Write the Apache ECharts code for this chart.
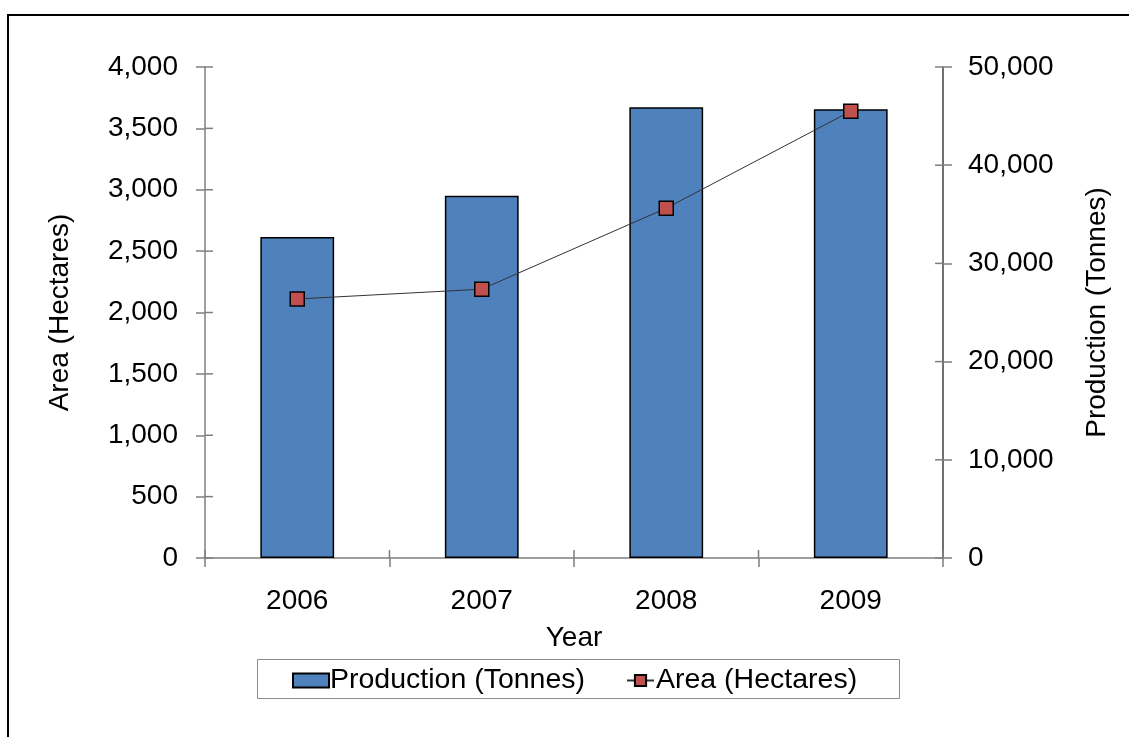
<!DOCTYPE html>
<html>
<head>
<meta charset="utf-8">
<script src="https://cdn.jsdelivr.net/npm/echarts@6/dist/echarts.min.js"></script>
<style>
  html, body { margin: 0; padding: 0; background: #fff; }
  #chart { width: 1129px; height: 737px; }
</style>
</head>
<body>
<div id="chart"></div>
<script>
// Crop production and harvested area by year
const years = ['2006', '2007', '2008', '2009'];
const production = [32700, 36900, 45900, 45700]; // tonnes (right axis)
const area = [2110, 2190, 2850, 3640];            // hectares (left axis)

// axis tick values
const areaTickValues = [0, 500, 1000, 1500, 2000, 2500, 3000, 3500, 4000];
const prodTickValues = [0, 10000, 20000, 30000, 40000, 50000];

const FONT = '"Liberation Sans", Arial, sans-serif';
const fmt = v => Number(v).toLocaleString('en-US');

const chart = echarts.init(document.getElementById('chart'), null, { renderer: 'canvas' });

const labelStyle = { color: '#000', fontFamily: FONT, fontSize: 28 };
const tickColor = '#7f7f7f';
const INNER = 8; // inner half of each crossing tick mark

const tickLine = (x1, y1, x2, y2) => ({
  type: 'line',
  shape: { x1, y1, x2, y2 },
  style: { stroke: tickColor, lineWidth: 1.5 }
});

// inner halves of the y-axis ticks, placed through the axis scale
const innerYTicks = (yAxisIndex, values, side) => ({
  type: 'custom',
  xAxisIndex: 0,
  yAxisIndex,
  silent: true,
  z: 1,
  data: values.map(v => [years[0], v]),
  encode: { x: 0, y: 1 },
  renderItem: (params, api) => {
    const y = api.coord([api.value(0), api.value(1)])[1];
    const cs = params.coordSys;
    const x = side === 'left' ? cs.x : cs.x + cs.width;
    const dir = side === 'left' ? 1 : -1;
    return tickLine(x, y, x + dir * INNER, y);
  }
});

// inner halves of the category-boundary ticks
const innerXTicks = {
  type: 'custom',
  xAxisIndex: 0,
  yAxisIndex: 0,
  silent: true,
  z: 1,
  data: years.map(yr => [yr, 0]),
  encode: { x: 0, y: 1 },
  renderItem: (params, api) => {
    const c = api.coord([api.value(0), 0]);
    const half = api.size([1, 0])[0] / 2;
    const children = [tickLine(c[0] - half, c[1], c[0] - half, c[1] - INNER)];
    if (params.dataIndex === years.length - 1) {
      children.push(tickLine(c[0] + half, c[1], c[0] + half, c[1] - INNER));
    }
    return { type: 'group', children };
  }
};

chart.setOption({
  backgroundColor: '#fff',
  animation: false,
  grid: { left: 205, right: 186, top: 67, bottom: 179, containLabel: false },
  graphic: [
    {
      type: 'rect', silent: true, z: -1,
      shape: { x: 8, y: 15, width: 1200, height: 800 },
      style: { fill: 'none', stroke: '#000', lineWidth: 2 }
    },
    {
      type: 'rect', silent: true, z: -1,
      shape: { x: 257.5, y: 659.5, width: 642, height: 39 },
      style: { fill: '#fff', stroke: '#8c8c8c', lineWidth: 1 }
    }
  ],
  legend: [
    {
      data: [{ name: 'Production (Tonnes)', icon: 'rect' }],
      left: 292, top: 666,
      padding: 0,
      itemWidth: 36, itemHeight: 14, itemGap: 0,
      textStyle: { color: '#000', fontFamily: FONT, fontSize: 28.5, padding: [0, 0, 0, -4] }
    },
    {
      data: ['Area (Hectares)'],
      left: 626, top: 666,
      padding: 0,
      itemWidth: 27, itemHeight: 14, itemGap: 0,
      textStyle: { color: '#000', fontFamily: FONT, fontSize: 28.5, padding: [0, 0, 0, -3] }
    }
  ],
  xAxis: {
    type: 'category',
    data: years,
    boundaryGap: true,
    name: 'Year',
    nameLocation: 'middle',
    nameGap: 66,
    nameTextStyle: labelStyle,
    axisLine: { lineStyle: { color: tickColor, width: 1.5 } },
    axisTick: { show: true, alignWithLabel: false, length: 9, lineStyle: { color: tickColor, width: 1.5 } },
    axisLabel: Object.assign({ margin: 29 }, labelStyle),
    splitLine: { show: false }
  },
  yAxis: [
    {
      type: 'value',
      position: 'left',
      min: areaTickValues[0],
      max: areaTickValues[areaTickValues.length - 1],
      interval: areaTickValues[1] - areaTickValues[0],
      name: 'Area (Hectares)',
      nameLocation: 'middle',
      nameGap: 131,
      nameRotate: 90,
      nameTextStyle: labelStyle,
      axisLine: { show: true, lineStyle: { color: tickColor, width: 1.5 } },
      axisTick: { show: true, length: 9, lineStyle: { color: tickColor, width: 1.5 } },
      axisLabel: Object.assign({ margin: 27, formatter: fmt }, labelStyle),
      splitLine: { show: false }
    },
    {
      type: 'value',
      position: 'right',
      min: prodTickValues[0],
      max: prodTickValues[prodTickValues.length - 1],
      interval: prodTickValues[1] - prodTickValues[0],
      name: 'Production (Tonnes)',
      nameLocation: 'middle',
      nameGap: 140,
      nameRotate: 90,
      nameTextStyle: labelStyle,
      axisLine: { show: true, lineStyle: { color: '#404040', width: 1.5 } },
      axisTick: { show: true, length: 9, lineStyle: { color: tickColor, width: 1.5 } },
      axisLabel: Object.assign({ margin: 25, formatter: fmt }, labelStyle),
      splitLine: { show: false }
    }
  ],
  series: [
    {
      name: 'Production (Tonnes)',
      type: 'bar',
      xAxisIndex: 0,
      yAxisIndex: 1,
      data: production,
      barWidth: '40%',
      itemStyle: { color: '#4f81bd', borderColor: '#000', borderWidth: 1.5 },
      z: 2
    },
    {
      name: 'Area (Hectares)',
      type: 'line',
      xAxisIndex: 0,
      yAxisIndex: 0,
      data: area,
      symbol: 'rect',
      symbolSize: 14,
      showAllSymbol: true,
      lineStyle: { color: '#333', width: 1 },
      itemStyle: { color: '#c0504d', borderColor: '#000', borderWidth: 1.5 },
      z: 3
    },
    innerYTicks(0, areaTickValues, 'left'),
    innerYTicks(1, prodTickValues, 'right'),
    innerXTicks
  ]
});
</script>
</body>
</html>
